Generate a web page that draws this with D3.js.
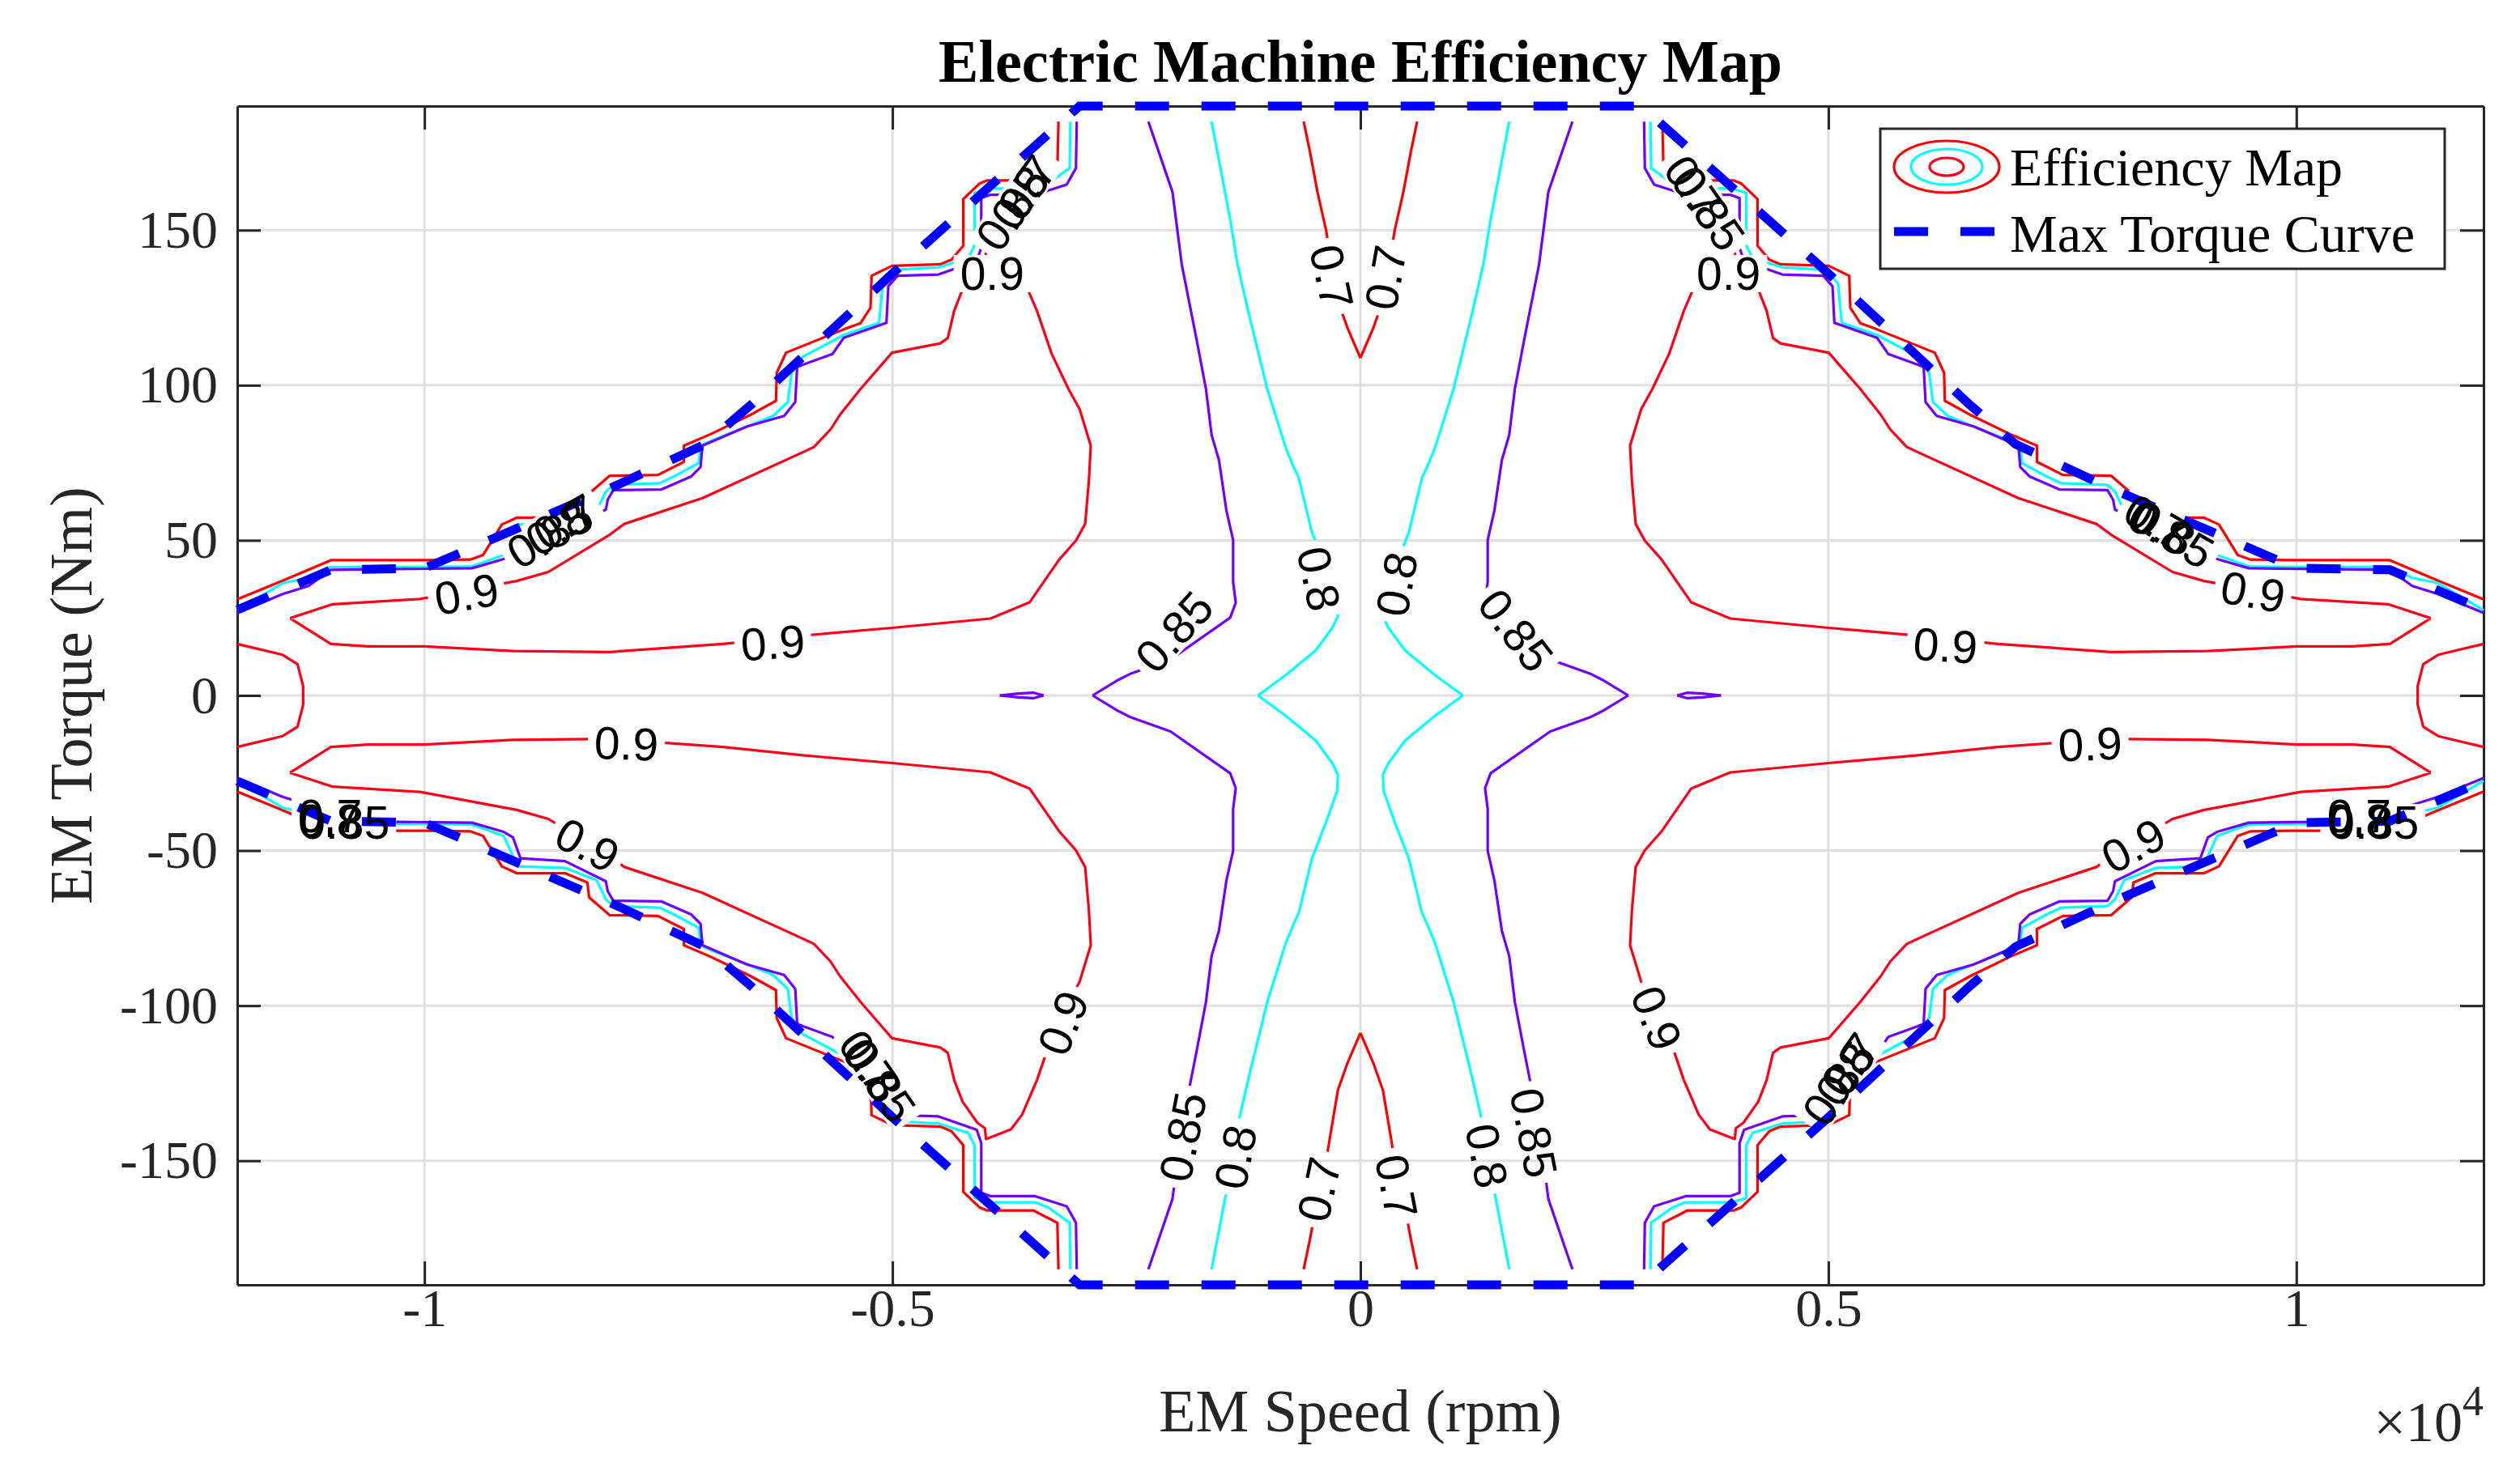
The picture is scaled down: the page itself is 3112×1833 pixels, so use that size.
<!DOCTYPE html>
<html><head><meta charset="utf-8">
<script src="https://cdn.jsdelivr.net/npm/d3@7/dist/d3.min.js"></script>
<style>body{margin:0;background:#fff;} svg{display:block;}</style>
</head><body>
<svg id="chart" width="3112" height="1833"></svg>
<script>
// ---------------- DATA ----------------
const titleText = "Electric Machine Efficiency Map";
const xLabelText = "EM Speed (rpm)";
const yLabelText = "EM Torque (Nm)";
const legendNames = ["Efficiency Map", "Max Torque Curve"];

const speedTicks = [-10000, -5000, 0, 5000, 10000];
const speedTickLabels = ["-1", "-0.5", "0", "0.5", "1"];
const torqueTicks = [-150, -100, -50, 0, 50, 100, 150];
const torqueTickLabels = ["-150", "-100", "-50", "0", "50", "100", "150"];

const levels = [0.7, 0.8, 0.85, 0.9];

// Max torque curve, negative-speed / positive-torque branch (mirrored to the other quadrants)
const maxTorqueSpeed = [-12000, -11000, -10000, -9000, -8000, -7000, -6500, -6000, -5000, -4000, -3000];
const maxTorqueValue = [27.6, 40.5, 41, 54, 67, 81, 94, 108, 136, 163, 190];

// Contour lines of the map, read in the quadrant speed<=0, torque>=0 ([speed rpm, torque Nm])
const band07 = [[-3226,185],[-3238,170],[-3496,166],[-3992,166],[-4071,165],[-4243,160],[-4243,145],[-4369,140.5],[-4488,139],[-5004,138.5],[-5223,135.3],[-5234,125],[-5341,120],[-5520,118],[-5767,115],[-6137,110.5],[-6236,104],[-6244,95],[-6514,90.5],[-6930,84.4],[-7228,80.5],[-7228,75.3],[-7506,71.1],[-8022,70.8],[-8240,65.1],[-8260,60.3],[-8499,57.3],[-9015,57.3],[-9173,55.1],[-9373,45.3],[-9511,43.8],[-9928,43.6],[-10999,43.6],[-11515,37],[-12000,31]];
const band08 = [[-3099,185],[-3106,170],[-3337,165],[-3476,163.4],[-3972,163.4],[-4123,162],[-4123,145],[-4191,141],[-4508,138],[-4985,137.2],[-5104,132.7],[-5143,120.1],[-5520,116.2],[-5957,109.2],[-6077,104],[-6117,94.6],[-6276,90.1],[-6514,87.1],[-6891,82.7],[-7050,80.5],[-7070,74.9],[-7307,71],[-7486,68.4],[-7982,67.9],[-8062,65.7],[-8161,59.5],[-8499,55.6],[-8995,55.1],[-9054,51.8],[-9153,45.3],[-9491,41.6],[-9928,41.4],[-10999,41.4],[-11238,37.9],[-11515,36.2],[-12000,27.5]];
const band085 = [[-3031,185],[-3039,170],[-3138,164.7],[-3476,161.4],[-3952,161.4],[-4051,160.3],[-4051,144.3],[-4099,140],[-4508,135.7],[-4945,135.3],[-5044,131.9],[-5064,120.1],[-5520,115.3],[-5640,110.1],[-5957,106.6],[-6018,105.8],[-6038,94.6],[-6157,90.1],[-6554,86.7],[-7030,80.5],[-7050,73.6],[-7149,70.6],[-7467,66.4],[-7982,66.2],[-8042,63.1],[-8062,59.9],[-8499,53.4],[-8974,52.5],[-9054,45.8],[-9153,44],[-9491,41],[-10999,40.5],[-11238,35.3],[-11515,32.7],[-12000,26.6]];
const inner09 = [[-11436,24.9],[-10979,29.4],[-10047,31.1],[-9015,36.9],[-8677,39.8],[-8022,51.8],[-7864,55.3],[-7030,63.6],[-5958,78.4],[-5838,80.1],[-5660,85.8],[-5560,90.5],[-5341,98.8],[-5004,110.5],[-4488,113.5],[-4409,115.2],[-4340,124],[-4250,131],[-4091,137.8],[-4012,139.5],[-4000,143],[-3734,139.9],[-3614,135.1],[-3456,124],[-3298,110.1],[-3119,98.8],[-3000,92.3],[-2881,80.5],[-2901,69.2],[-2941,55.3],[-3039,49.9],[-3218,43.8],[-3535,30],[-3952,24.8],[-5004,21.8],[-5957,19.3],[-6811,16.6],[-8022,14],[-9054,14.3],[-10007,15.8],[-10603,15.8],[-10999,16.6],[-11436,24.9]];
const edge09 = [[-12000,16.6],[-11515,13.1],[-11356,10.1],[-11296,3],[-11296,0]];
const center07 = [[-606,185],[-539,175.3],[-459,162.3],[-367,150],[-241,127.3],[-142,118.8],[0,108.8]];
const center08 = [[-1590,185],[-1392,153.6],[-1312,138.8],[-1193,123.1],[-995,98.8],[-796,79.7],[-709,73.4],[-658,70.1],[-519,52.7],[-360,40.3],[-249,30.8],[-241,25.6],[-300,21.8],[-479,14.5],[-796,6.6],[-1094,0]];
const center085 = [[-2265,185],[-2008,162.3],[-1908,138.8],[-1749,114.5],[-1650,98.8],[-1590,84],[-1511,75.8],[-1432,59.7],[-1360,50.1],[-1360,36.6],[-1332,29.9],[-1391,25.1],[-2028,11.6],[-2464,6.9],[-2582,5.1],[-2861,0]];
const blob085 = [[-3853,0],[-3655,0.6],[-3496,0.9],[-3385,0]];

const contourLines = [
  {level: 0.7, pts: band07}, {level: 0.8, pts: band08}, {level: 0.85, pts: band085},
  {level: 0.9, pts: inner09}, {level: 0.9, pts: edge09},
  {level: 0.7, pts: center07}, {level: 0.8, pts: center08}, {level: 0.85, pts: center085},
  {level: 0.85, pts: blob085}
];

// Inline contour labels: [text, speed, torque, angle]
const contourLabels = [
  ["0.9",-3934,136,0],["0.9",-6277,17,-4],["0.9",-9550,32.7,-10],
  ["0.7",-306,135,78],["0.8",-444,37.6,78],["0.85",-1990,20.5,-48],
  ["0.7",-3560,164,-55],["0.8",-3640,160.5,-55],["0.85",-3720,157,-55],
  ["0.7",-8500,56,-30],["0.8",-8580,54,-30],["0.85",-8660,52,-30],
  ["0.9",3934,136,0],["0.9",6251,16.1,4],["0.9",9537,33.4,10],
  ["0.7",268,134.7,-80],["0.8",386,35.9,-80],["0.85",1660,21,52],
  ["0.7",3560,164,55],["0.8",3640,160.5,55],["0.85",3720,157,55],
  ["0.7",8500,56,30],["0.8",8580,54,30],["0.85",8660,52,30],
  ["0.9",-7843,-15.5,2],["0.9",-8260,-48.2,28],["0.9",-3178,-105.6,-68],
  ["0.85",-1898,-142.3,-79],["0.8",-1336,-148.8,-79],["0.7",-444,-159.2,-78],
  ["0.7",-11008,-39,0],["0.8",-11008,-40.5,0],["0.85",-10851,-41,0],
  ["0.7",-5260,-118,55],["0.8",-5200,-121,55],["0.85",-5140,-124,55],
  ["0.9",7797,-15.7,-2],["0.9",8260,-48.4,-28],["0.9",3165,-104,68],
  ["0.85",1853,-141,79],["0.8",1351,-148.4,79],["0.7",386,-158.3,79],
  ["0.7",10670,-39,0],["0.8",10670,-40.5,0],["0.85",10829,-41,0],
  ["0.7",5230,-119,-55],["0.8",5170,-122,-55],["0.85",5110,-125,-55]
];

// ---------------- DRAWING ----------------
const levelColor = d3.scaleOrdinal().domain(levels).range(["#ff0000", "#00ffff", "#7000ff", "#ff0019"]);
const serif = "'Liberation Serif', 'Times New Roman', Times, serif";
const sans = "'Liberation Sans', Arial, Helvetica, sans-serif";

const svg = d3.select("#chart");
const x = d3.scaleLinear().domain([-12000, 12000]).range([293, 3067]);
const y = d3.scaleLinear().domain([-190, 190]).range([1587, 131]);
const axisColor = "#262626";

svg.append("rect").attr("width", 3112).attr("height", 1833).attr("fill", "#fff");

// grid
const grid = svg.append("g");
grid.selectAll(".vg").data(speedTicks).join("line")
  .attr("x1", d => x(d)).attr("x2", d => x(d)).attr("y1", y(-190)).attr("y2", y(190))
  .attr("stroke", "#dfdfdf").attr("stroke-width", 3);
grid.selectAll(".hg").data(torqueTicks).join("line")
  .attr("y1", d => y(d)).attr("y2", d => y(d)).attr("x1", x(-12000)).attr("x2", x(12000))
  .attr("stroke", "#dfdfdf").attr("stroke-width", 3);

// axes
function styleAxis(g) {
  g.attr("font-family", serif).attr("font-size", 66);
  g.select(".domain").attr("stroke", axisColor).attr("stroke-width", 3);
  g.selectAll(".tick line").attr("stroke", axisColor).attr("stroke-width", 3);
  g.selectAll(".tick text").attr("fill", axisColor);
}
svg.append("g").attr("transform", `translate(0,${y(-190)})`)
  .call(d3.axisBottom(x).tickValues(speedTicks).tickFormat((d, i) => speedTickLabels[i]).tickSizeInner(-29).tickSizeOuter(0).tickPadding(4))
  .call(styleAxis);
svg.append("g").attr("transform", `translate(0,${y(190)})`)
  .call(d3.axisTop(x).tickValues(speedTicks).tickFormat("").tickSizeInner(-29).tickSizeOuter(0))
  .call(styleAxis);
svg.append("g").attr("transform", `translate(${x(-12000)},0)`)
  .call(d3.axisLeft(y).tickValues(torqueTicks).tickFormat((d, i) => torqueTickLabels[i]).tickSizeInner(-29).tickSizeOuter(0).tickPadding(24))
  .call(styleAxis);
svg.append("g").attr("transform", `translate(${x(12000)},0)`)
  .call(d3.axisRight(y).tickValues(torqueTicks).tickFormat("").tickSizeInner(-29).tickSizeOuter(0))
  .call(styleAxis);

const mirrors = [[1, 1], [-1, 1], [1, -1], [-1, -1]];
const line = d3.line().x(d => x(d[0])).y(d => y(d[1]));

const defs = svg.append("defs");
const mask = defs.append("mask").attr("id", "labelMask").attr("maskUnits", "userSpaceOnUse")
  .attr("x", 0).attr("y", 0).attr("width", 3112).attr("height", 1833);
mask.append("rect").attr("width", 3112).attr("height", 1833).attr("fill", "#fff");

const contourG = svg.append("g").attr("mask", "url(#labelMask)");
contourLines.forEach(c => {
  mirrors.forEach(([sx, sy]) => {
    contourG.append("path")
      .attr("d", line(c.pts.map(p => [p[0] * sx, p[1] * sy])))
      .attr("fill", "none").attr("stroke", levelColor(c.level))
      .attr("stroke-width", 3.2).attr("stroke-linejoin", "round");
  });
});

// max torque curve
const mtHalf = maxTorqueSpeed.map((s, i) => [s, maxTorqueValue[i]]);
const mtUpper = mtHalf.concat(mtHalf.slice().reverse().map(p => [-p[0], p[1]]));
[1, -1].forEach(sy => {
  svg.append("path").attr("d", line(mtUpper.map(p => [p[0], p[1] * sy])))
    .attr("fill", "none").attr("stroke", "#0000ff").attr("stroke-width", 11)
    .attr("stroke-dasharray", "42 40");
});

// contour labels
const labelG = svg.append("g").attr("font-family", sans).attr("font-size", 57).attr("fill", "#000");
contourLabels.forEach(([t, s, tq, a]) => {
  const tx = labelG.append("text")
    .attr("transform", `translate(${x(s)},${y(tq)}) rotate(${a})`)
    .attr("text-anchor", "middle").attr("dominant-baseline", "central").text(t);
  const w = tx.node().getComputedTextLength();
  mask.append("rect").attr("transform", `translate(${x(s)},${y(tq)}) rotate(${a})`)
    .attr("x", -w / 2 - 8).attr("y", -23).attr("width", w + 16).attr("height", 46).attr("fill", "#000");
});

// title & axis labels
svg.append("text").attr("x", (x(-12000) + x(12000)) / 2).attr("y", 101).attr("text-anchor", "middle")
  .attr("font-family", serif).attr("font-weight", "bold").attr("font-size", 74).attr("fill", "#000").text(titleText);
svg.append("text").attr("x", (x(-12000) + x(12000)) / 2).attr("y", 1768).attr("text-anchor", "middle")
  .attr("font-family", serif).attr("font-size", 74).attr("fill", axisColor).text(xLabelText);
svg.append("text").attr("transform", `translate(113,${y(0)}) rotate(-90)`).attr("text-anchor", "middle")
  .attr("font-family", serif).attr("font-size", 74).attr("fill", axisColor).text(yLabelText);
const expo = svg.append("text").attr("x", x(12000)).attr("y", 1780).attr("text-anchor", "end")
  .attr("font-family", serif).attr("font-size", 70).attr("fill", axisColor);
expo.append("tspan").text("\u00d710");
expo.append("tspan").attr("dy", -32).attr("font-size", 52).text("4");

// legend
const lg = svg.append("g");
lg.append("rect").attr("x", 2322).attr("y", 159).attr("width", 697).attr("height", 173)
  .attr("fill", "#fff").attr("stroke", axisColor).attr("stroke-width", 3);
[[65, 32, 0.7], [44, 22, 0.8], [21, 11, 0.9]].forEach(([rx, ry, lv]) => {
  lg.append("ellipse").attr("cx", 2404).attr("cy", 206).attr("rx", rx).attr("ry", ry)
    .attr("fill", "none").attr("stroke", levelColor(lv)).attr("stroke-width", 3.2);
});
lg.append("line").attr("x1", 2339).attr("x2", 2463).attr("y1", 286).attr("y2", 286)
  .attr("stroke", "#0000ff").attr("stroke-width", 11).attr("stroke-dasharray", "42 40");
lg.selectAll(".lt").data(legendNames).join("text")
  .attr("x", 2482).attr("y", (d, i) => [229, 311][i])
  .attr("font-family", serif).attr("font-size", 66).attr("fill", "#000").text(d => d);
</script>
</body></html>
